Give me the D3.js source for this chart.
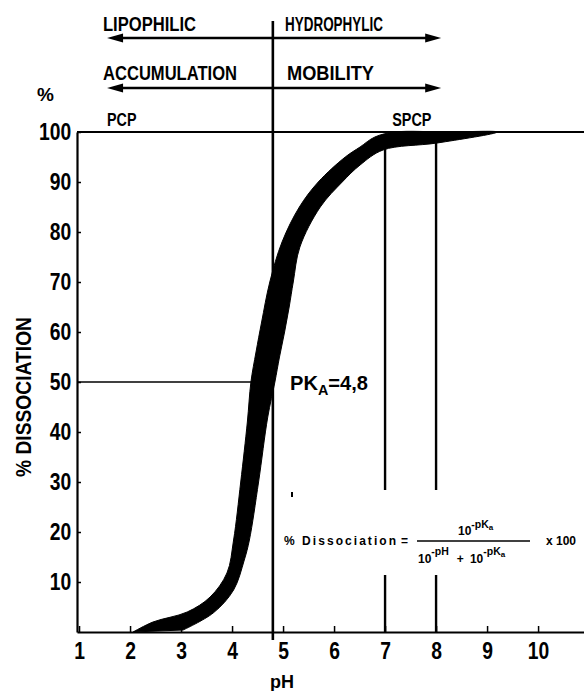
<!DOCTYPE html>
<html><head><meta charset="utf-8">
<script src="https://cdn.jsdelivr.net/npm/d3@7"></script>
<style>
html,body{margin:0;padding:0;background:#fff;}
svg{display:block;}
text{font-family:"Liberation Sans",Arial,sans-serif;font-weight:bold;fill:#000;}
</style></head><body>
<svg id="chart" width="584" height="691"></svg>
<script>
// ---- data ----
const xTicks = [1,2,3,4,5,6,7,8,9,10];
const yTicks = [10,20,30,40,50,60,70,80,90,100];
const pKa = 4.8;
// thick hand-drawn dissociation band: left/upper edge and right/lower edge, [pH, %]
const bandLeftEdge = [[2.06,0],[2.45,2],[3.12,4],[3.57,7],[3.9,11.8],[4.03,18.4],[4.17,30],[4.3,42],[4.37,50],[4.47,56],[4.58,62],[4.74,70],[4.98,78],[5.32,85],[5.69,90],[6.22,95],[6.51,97],[6.8,99],[7.2,100],[8.2,100]];
const bandRightEdge = [[9.2,100],[8.02,97.8],[6.96,96.4],[6.51,93.4],[6.16,90],[5.73,85],[5.33,77],[5.2,70],[5.12,65],[5.03,60],[4.93,55],[4.84,50],[4.7,43],[4.52,30],[4.34,18.4],[4.24,14.4],[4.03,8.4],[3.63,3.8],[3.04,0.4]];
const markerPH = [7, 8];          // vertical reference lines
const markerTop = [96.8, 98.2];  // where they leave the band (%)
const markerGap = [28.4, 11.4];  // gap for the formula (%)
const compoundLabels = [{t:"PCP", pH:1.55}, {t:"SPCP", pH:7.14}];

// ---- scales ----
const svg = d3.select("#chart");
const x = d3.scaleLinear().domain([0.96, 10.92]).range([77, 585]);
const y = d3.scaleLinear().domain([0, 100]).range([632, 132]);
const lineW = 2.2;

// frame: top 100% line
svg.append("line").attr("x1", x(0.96)).attr("x2", 584).attr("y1", y(100)).attr("y2", y(100))
  .attr("stroke","#000").attr("stroke-width", lineW);

// y axis
const yAxis = d3.axisLeft(y).tickValues(yTicks).tickSizeInner(-4).tickSizeOuter(0).tickPadding(7);
const gy = svg.append("g").attr("transform", `translate(${x(0.96)},0)`).call(yAxis);
gy.select(".domain").attr("stroke-width", lineW);
gy.selectAll(".tick line").attr("stroke-width", 1.5);
gy.selectAll(".tick text").style("font-size","23px").style("font-family",null)
  .attr("transform","scale(0.84,1)");

// x axis
const xAxis = d3.axisBottom(x).tickValues(xTicks).tickSizeInner(-6).tickSizeOuter(0).tickPadding(11);
const gx = svg.append("g").attr("transform", `translate(0,${y(0)})`).call(xAxis);
gx.select(".domain").attr("stroke-width", lineW);
gx.selectAll(".tick line").attr("stroke-width", 1.5);
gx.selectAll(".tick text").style("font-size","23px").style("font-family",null)
  .attr("transform","scale(0.84,1)");

// axis titles
svg.append("text").attr("x", 282).attr("y", 688).attr("text-anchor","middle")
  .style("font-size","18px").text("pH");
svg.append("text").attr("transform", `translate(31,397) rotate(-90)`).attr("text-anchor","middle")
  .attr("textLength", 160).attr("lengthAdjust","spacingAndGlyphs")
  .style("font-size","22px").text("% DISSOCIATION");
svg.append("text").attr("x", 37).attr("y", 101).style("font-size","19px").text("%");

// 50% line to the band
svg.append("line").attr("x1", x(0.96)).attr("x2", x(4.6)).attr("y1", y(50)).attr("y2", y(50))
  .attr("stroke","#000").attr("stroke-width", 1.6);

// vertical pKa line
svg.append("line").attr("x1", x(pKa)).attr("x2", x(pKa)).attr("y1", 21).attr("y2", 640)
  .attr("stroke","#000").attr("stroke-width", 2.6);

// marker lines at pH 7, 8
markerPH.forEach((p, i) => {
  svg.append("line").attr("x1", x(p)).attr("x2", x(p)).attr("y1", y(markerTop[i])).attr("y2", y(markerGap[0]))
    .attr("stroke","#000").attr("stroke-width", 2.4);
  svg.append("line").attr("x1", x(p)).attr("x2", x(p)).attr("y1", y(markerGap[1])).attr("y2", y(0))
    .attr("stroke","#000").attr("stroke-width", 2.4);
});

// band
const bandPts = bandLeftEdge.concat(bandRightEdge);
const bandLine = d3.line().x(d => x(d[0])).y(d => y(d[1])).curve(d3.curveCatmullRom.alpha(0.5));
svg.append("path").attr("d", bandLine(bandPts) + "Z").attr("fill","#000").attr("stroke","#000").attr("stroke-width",1);

// pKa label
const pk = svg.append("text").attr("x", 290).attr("y", y(50) + 8).style("font-size","21px")
  .attr("textLength", 78).attr("lengthAdjust","spacingAndGlyphs");
pk.append("tspan").text("PK");
pk.append("tspan").attr("dy", 5).style("font-size","15px").text("A");
pk.append("tspan").attr("dy", -5).text("=4,8");

// compound labels
compoundLabels.forEach(c => {
  svg.append("text").attr("x", x(c.pH)).attr("y", 126).style("font-size","19px")
    .attr("textLength", c.t.length * 9.8).attr("lengthAdjust","spacingAndGlyphs").text(c.t);
});

// header texts & double arrows
function header(t, x0, yb, w) {
  svg.append("text").attr("x", x0).attr("y", yb).style("font-size","20px")
    .attr("textLength", w).attr("lengthAdjust","spacingAndGlyphs").text(t);
}
header("LIPOPHILIC", 103, 31, 93);
header("HYDROPHYLIC", 285, 31, 98);
header("ACCUMULATION", 103, 80, 134);
header("MOBILITY", 287, 80, 87);

function dblArrow(yy) {
  const xl = x(1.55), xr = x(8.1);
  svg.append("line").attr("x1", xl + 8).attr("x2", xr - 8).attr("y1", yy).attr("y2", yy)
    .attr("stroke","#000").attr("stroke-width", 2.4);
  svg.append("path").attr("d", `M${xl},${yy} L${xl+16},${yy-4.5} L${xl+16},${yy+4.5} Z`).attr("fill","#000");
  svg.append("path").attr("d", `M${xr},${yy} L${xr-16},${yy-4.5} L${xr-16},${yy+4.5} Z`).attr("fill","#000");
}
dblArrow(38);
dblArrow(88);

// formula
const fs = "10.5px";
svg.append("text").attr("x", 284).attr("y", 545).style("font-size","12px")
  .attr("textLength", 112).attr("lengthAdjust","spacing").text("% Dissociation");
svg.append("text").attr("x", 401).attr("y", 545).style("font-size","12px").text("=");
svg.append("line").attr("x1", 417).attr("x2", 530).attr("y1", 541).attr("y2", 541).attr("stroke","#000").attr("stroke-width",1.6);
const num = svg.append("text").attr("x", 458).attr("y", 535).style("font-size","12px");
num.append("tspan").text("10");
num.append("tspan").attr("dy",-7).style("font-size",fs).text("-pK");
num.append("tspan").attr("dy",2).style("font-size","8px").text("a");
const den = svg.append("text").attr("x", 418).attr("y", 563).style("font-size","12px");
den.append("tspan").text("10");
den.append("tspan").attr("dy",-8).style("font-size",fs).text("-pH");
den.append("tspan").attr("dy",8).attr("dx",8).text("+");
den.append("tspan").attr("dx",6).text("10");
den.append("tspan").attr("dy",-8).style("font-size",fs).text("-pK");
den.append("tspan").attr("dy",2).style("font-size","8px").text("a");
svg.append("text").attr("x", 546).attr("y", 545).style("font-size","12px").text("x 100");

// small speck
svg.append("line").attr("x1", 292).attr("x2", 292).attr("y1", 492).attr("y2", 497).attr("stroke","#000").attr("stroke-width",2);
</script>
</body></html>
